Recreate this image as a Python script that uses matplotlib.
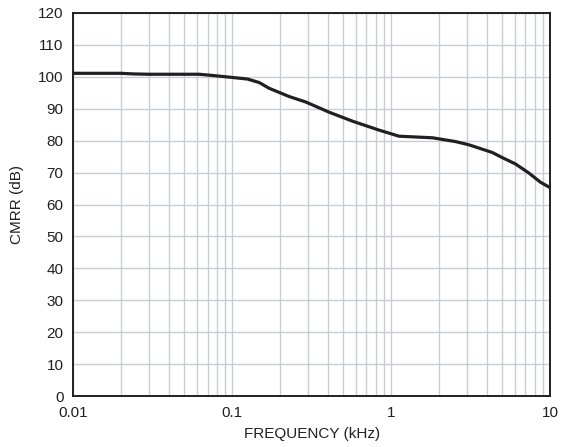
import matplotlib
matplotlib.use("Agg")
import matplotlib.pyplot as plt
from matplotlib.ticker import FixedLocator, LogLocator, NullFormatter

plt.rcParams["font.family"] = ["Liberation Sans", "DejaVu Sans"]

# CMRR vs frequency
freq_khz = [0.01, 0.015, 0.02, 0.024, 0.03, 0.047, 0.062, 0.076, 0.1, 0.125,
            0.148, 0.171, 0.229, 0.291, 0.408, 0.572, 0.84, 1.12, 1.82, 2.55,
            3.09, 4.33, 5.0, 6.06, 7.34, 8.69, 10.0]
cmrr_db = [101.1, 101.1, 101.1, 100.9, 100.8, 100.8, 100.8, 100.4, 99.8, 99.3,
           98.2, 96.4, 93.8, 92.1, 88.9, 86.1, 83.3, 81.4, 80.9, 79.7,
           78.7, 76.3, 74.7, 72.7, 69.9, 67.0, 65.3]
x_ticks = [0.01, 0.1, 1, 10]
x_tick_labels = ["0.01", "0.1", "1", "10"]
y_ticks = list(range(0, 121, 10))

fig = plt.figure(figsize=(5.63, 4.47), dpi=100)
ax = fig.add_axes([0.130, 0.114, 0.847, 0.857])

ax.plot(freq_khz, cmrr_db, color="#231f20", lw=2.3, solid_joinstyle="round")

ax.set_xscale("log")
ax.set_xlim(0.01, 10)
ax.set_ylim(0, 120)
ax.xaxis.set_major_locator(FixedLocator(x_ticks))
ax.set_xticklabels(x_tick_labels)
ax.xaxis.set_minor_locator(LogLocator(base=10, subs=range(2, 10)))
ax.xaxis.set_minor_formatter(NullFormatter())
ax.set_yticks(y_ticks)

ax.grid(True, which="major", color="#c9ccd3", lw=1.0)
ax.grid(True, which="minor", axis="x", color="#c9ccd3", lw=1.0)
ax.set_axisbelow(True)

ax.tick_params(which="both", length=0, labelsize=11, colors="#231f20")
ax.tick_params(axis="y", pad=7)
ax.tick_params(axis="x", pad=7)
for s in ax.spines.values():
    s.set_linewidth(1.4)
    s.set_color("#231f20")

ax.set_xlabel("FREQUENCY (kHz)", fontsize=11, color="#231f20", labelpad=5)
ax.set_ylabel("CMRR (dB)", fontsize=11, color="#231f20", labelpad=10)

fig.savefig("out.png", dpi=100)
